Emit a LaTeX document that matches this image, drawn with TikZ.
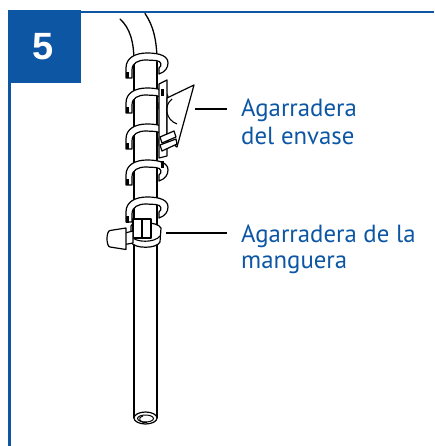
\documentclass[tikz,border=0pt]{standalone}
\usepackage{fontspec}
\newfontfamily\calloutfont{PT Sans}
\newfontfamily\numberfont{Liberation Sans}
\definecolor{stepblue}{RGB}{12,86,164}

% one turn of the spiral clip, #1 = top of the turn
\newcommand\springturn[1]{%
  \begin{scope}[shift={(0,#1)}]
    \draw[band] (126,25) -- (126,15) .. controls (126,5) and (135,0) .. (147,0)
      .. controls (160,0) and (168,3) .. (168,10)
      .. controls (168,15) and (165,19) .. (159,21) -- (159,15)
      .. controls (162,13) and (162,8) .. (156,7.5) -- (146,7)
      .. controls (138,7) and (132,10) .. (132,17) -- (132,25) -- cycle;
    \fill (126.2,19) rectangle (128.8,25.5);
  \end{scope}}

\begin{document}
\begin{tikzpicture}[x=1pt,y=-1pt,
  tubeline/.style={line width=1.3pt, line cap=round},
  band/.style={fill=white, draw=black, line width=1.2pt, line join=round},
  leader/.style={draw=black, line width=1.1pt},
  calltext/.style={font=\calloutfont\fontsize{24.8}{28}\selectfont, text=stepblue,
                   anchor=base west, inner sep=0pt},
]
\useasboundingbox (0,0) rectangle (434,446);

% frame with step number
\fill[stepblue] (8,10) rectangle (81,83);
\fill[stepblue] (81,11) rectangle (434,13.5);
\fill[stepblue] (8,83) rectangle (11,446);
\node[font=\numberfont\bfseries\fontsize{38}{38}\selectfont, text=white, inner sep=0pt] (num) at (43,46.5) {5};

% hose: curved upper part and straight tube
\draw[tubeline] (157,62) .. controls (157,40) and (153,25) .. (145,13.5);
\draw[tubeline] (134,62) .. controls (134,42) and (130,28) .. (120,19);
\draw[tubeline] (134,62) -- (134,418);
\draw[tubeline] (157,62) -- (157,418);

% tube end
\draw[band] (145.5,418) ellipse [x radius=11.5, y radius=6];
\draw[line width=1pt] (145.5,418.5) ellipse [x radius=8, y radius=3.5];
\draw[line width=1pt] (143,416) .. controls (137,418) and (139,423) .. (147,422.5);

% spiral clip
\springturn{53}
\springturn{88}
\springturn{124}
\springturn{160}
\springturn{197}

% container clip: plate and flap
\draw[band] (159,84) -- (167,80) -- (167,156) -- (159,158) -- cycle;
\draw[band] (167,98) -- (194,85) -- (177,147) -- (167,140) -- cycle;
\draw[line width=1.1pt] (172,99) .. controls (163,106) and (166,120) .. (177,124);
\draw[band] (160,137) -- (174,131) -- (176,137) -- (162,143) -- cycle;
\draw[band] (160,145) -- (176,139) -- (177,144) -- (162,151) -- cycle;
\fill (160.5,89) rectangle (163.5,96);
\fill (160.5,161) rectangle (163.5,168);

% hose clamp
\draw[band] (131,226) .. controls (131,221) and (158,221) .. (161,228)
  -- (160,242) .. controls (157,249) and (134,249) .. (131,242) -- cycle;
\draw[line width=1.1pt] (131,236) .. controls (135,243) and (155,243) .. (160,236);
\draw[band] (133,219) rectangle (151,238);
\draw[line width=1.1pt] (142,219) -- (142,238);
\draw[band] (125,233) -- (133,231) -- (133,243) -- (125,244.5) -- cycle;
\draw[band] (126,228) -- (110,230.5) .. controls (106,231) and (106,246.5) .. (110,247)
  -- (126,249.5) -- cycle;

% callouts
\coordinate (flaptip) at (195,109);
\coordinate (flapend) at (227,109);
\coordinate (clamptip) at (166,233);
\coordinate (clampend) at (227,233);
\draw[leader] (flaptip) -- (flapend);
\draw[leader] (clamptip) -- (clampend);

\node[calltext] (envA) at (241,117) {Agarradera};
\node[calltext] (envB) at (241,145) {del envase};
\node[calltext] (manA) at (241,242) {Agarradera de la};
\node[calltext] (manB) at (241,268) {manguera};
\end{tikzpicture}
\end{document}
